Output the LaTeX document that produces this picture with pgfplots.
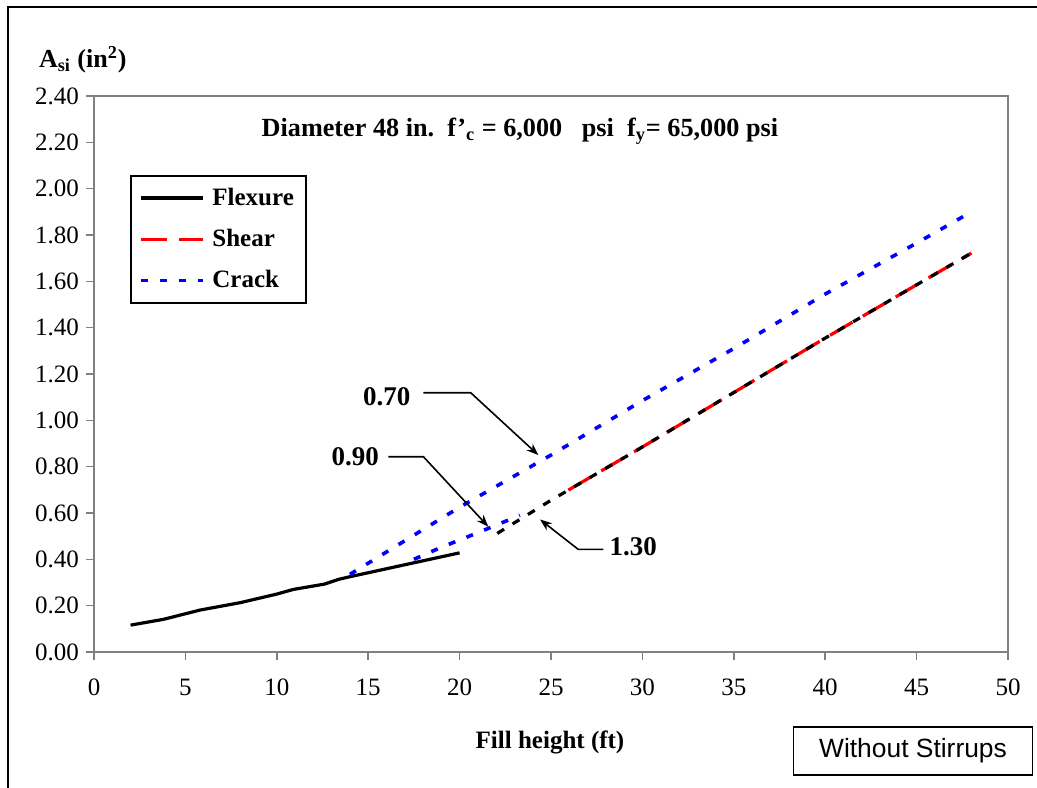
\documentclass[border=0pt]{standalone}
\usepackage{pgfplots}
\pgfplotsset{compat=1.18}
\usepackage{fontspec}
\setmainfont{Liberation Serif}
\newfontfamily\arialfont{Liberation Sans}
\usetikzlibrary{arrows.meta}
\definecolor{axgray}{RGB}{128,128,128}
\begin{document}
\begin{tikzpicture}
\path[use as bounding box] (-47pt,-67.5pt) rectangle (471.5pt,326pt);
\draw[black, line width=1pt] (-43pt,-70pt) -- (-43pt,322.5pt) -- (475pt,322.5pt);
\begin{axis}[
  at={(0pt,0pt)}, anchor=south west,
  width=457pt, height=278pt, scale only axis,
  xmin=0, xmax=50, ymin=0, ymax=2.4,
  xtick={0,5,10,15,20,25,30,35,40,45,50},
  ytick={0,0.2,0.4,0.6,0.8,1.0,1.2,1.4,1.6,1.8,2.0,2.2,2.4},
  yticklabel style={/pgf/number format/.cd,fixed,fixed zerofill,precision=2},
  /pgf/number format/assume math mode=true,
  tick label style={font=\fontsize{12.5}{14}\selectfont},
  xticklabel style={yshift=-6pt},
  axis line style={axgray, line width=1pt},
  tick style={axgray, line width=0.8pt},
  tick align=outside, tick pos=left, major tick length=4pt,
  clip=false,
  legend style={at={(0.0394,0.858)}, anchor=north west, draw=black, line width=0.8pt,
    font=\bfseries\fontsize{12.5}{14}\selectfont, row sep=6.5pt, inner xsep=4pt, inner ysep=4pt},
  legend cell align=left,
  legend image code/.code={\draw[#1] (0pt,0pt) -- (31pt,0pt);},
]
% Flexure (solid black)
\addplot[black, line width=1.6pt] coordinates {
(2,0.116) (3.8,0.141) (5.8,0.181) (8,0.213) (10,0.25) (10.9,0.27) (12.6,0.293) (13.4,0.314) (14,0.325) (20,0.428)};
\addlegendentry{\hspace{2pt}Flexure}
% Shear (red dashed)
\addplot[red, line width=1.6pt, dash pattern=on 13pt off 6pt] coordinates {
(25.95,0.699) (30,0.885) (35,1.12) (40,1.355) (45,1.585) (48,1.722)};
\addlegendentry{\hspace{2pt}Shear}
% Crack 0.70 (blue dotted)
\addplot[blue, line width=1.8pt, dash pattern=on 3.5pt off 6pt] coordinates {
(14,0.335) (20,0.625) (25,0.85) (30,1.085) (35,1.31) (40,1.545) (45,1.765) (48,1.90)};
\addlegendentry{\hspace{2pt}Crack}
% Crack 0.90 (blue dotted)
\addplot[blue, line width=1.8pt, dash pattern=on 3.5pt off 6pt, forget plot] coordinates {
(17.5,0.40) (19,0.452) (21,0.515) (23.3,0.59)};
% Black dashed (1.30)
\addplot[black, line width=1.6pt, dash pattern=on 4pt off 5pt, forget plot] coordinates {
(22.06,0.512) (25,0.655) (30,0.885) (35,1.12) (40,1.355) (45,1.585) (48,1.722)};
% annotations
\draw[black, line width=0.8pt, -{Stealth[length=6pt,width=4.5pt]}]
  (axis cs:18.02,1.119) -- (axis cs:20.61,1.119) -- (axis cs:24.31,0.850);
\draw[black, line width=0.8pt, -{Stealth[length=6pt,width=4.5pt]}]
  (axis cs:16.11,0.843) -- (axis cs:18.02,0.843) -- (axis cs:21.57,0.541);
\draw[black, line width=0.8pt, -{Stealth[length=6pt,width=4.5pt]}]
  (axis cs:27.86,0.443) -- (axis cs:26.49,0.443) -- (axis cs:24.40,0.572);
\node[font=\bfseries\fontsize{13.5}{15}\selectfont] at (axis cs:16.02,1.101) {0.70};
\node[font=\bfseries\fontsize{13.5}{15}\selectfont] at (axis cs:14.29,0.843) {0.90};
\node[font=\bfseries\fontsize{13.5}{15}\selectfont] at (axis cs:29.5,0.454) {1.30};
\node[font=\bfseries\fontsize{13.1}{15}\selectfont] at (axis cs:23.3,2.248)
  {Diameter 48 in.\ \ f'\textsubscript{c} = 6,000 \ \ psi \ f\textsubscript{y}= 65,000 psi};
\end{axis}
\node[anchor=west, font=\bfseries\fontsize{13}{15}\selectfont] at (-31pt,296pt)
  {A\textsubscript{si} (in\textsuperscript{2})};
\node[font=\bfseries\fontsize{12.5}{14}\selectfont] at (228pt,-45pt) {Fill height (ft)};
\node[draw=black, line width=0.8pt, minimum width=119.5pt, minimum height=24pt,
  font=\arialfont\fontsize{13.2}{15}\selectfont] at (409.5pt,-49.5pt) {Without Stirrups};
\end{tikzpicture}
\end{document}
